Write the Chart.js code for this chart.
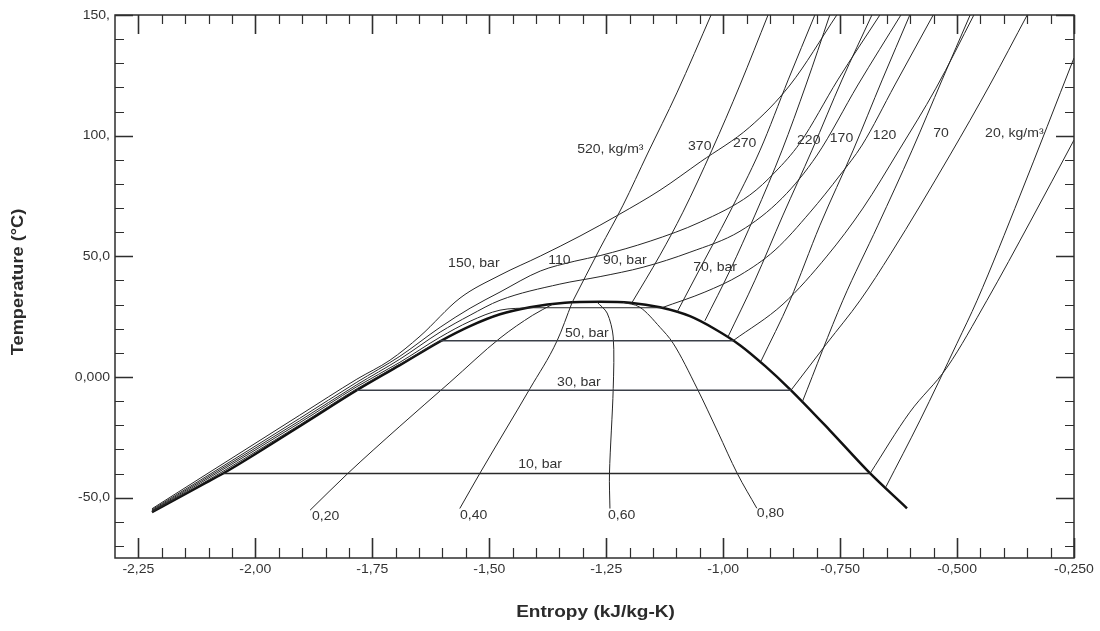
<!DOCTYPE html>
<html>
<head>
<meta charset="utf-8">
<script src="https://cdn.jsdelivr.net/npm/chart.js@4.4.1/dist/chart.umd.min.js"></script>
<style>
  html, body { margin: 0; padding: 0; background: #ffffff; }
  canvas { display: block; }
</style>
</head>
<body>
<canvas id="ts" width="1100" height="631" style="width:1100px;height:631px"></canvas>
<script>
// CO2 temperature–entropy diagram: s in kJ/kg-K, T in °C, each curve as [s, T] pairs.

// Saturation dome
const satLiquid = [[-2.221,-56.0],[-2.118,-45.1],[-2.069,-40.0],[-1.905,-20.4],[-1.783,-5.5],[-1.691,4.9],[-1.605,14.8],[-1.541,21.1],[-1.477,26.0],[-1.413,28.9],[-1.338,30.8],[-1.263,31.2]];
const satVapor = [[-1.263,31.2],[-1.199,30.8],[-1.135,28.9],[-1.071,25.2],[-1.017,19.8],[-0.964,13.2],[-0.910,4.5],[-0.857,-5.1],[-0.772,-22.1],[-0.690,-39.1],[-0.607,-54.4]];

// Isobars (bar)
const p10Dome = [[-2.069,-40.0],[-0.686,-40.0]];
const p10Vapor = [[-0.686,-40.0],[-0.601,-14.6],[-0.521,4.1],[-0.436,31.8],[-0.344,64.2],[-0.250,98.2],[-0.226,106.9]];
const p30Dome = [[-1.783,-5.5],[-0.855,-5.5]];
const p30Vapor = [[-0.855,-5.5],[-0.778,14.0],[-0.707,31.8],[-0.641,51.3],[-0.515,92.0],[-0.430,121.0],[-0.350,150.0]];
const p50Liquid = [[-2.221,-55.85],[-2.118,-44.65],[-1.905,-19.8],[-1.783,-4.85],[-1.691,5.3],[-1.605,15.0]];
const p50Dome = [[-1.605,15.0],[-0.979,15.0]];
const p50Vapor = [[-0.979,15.0],[-0.872,30.2],[-0.778,50.1],[-0.701,70.0],[-0.624,94.0],[-0.545,119.7],[-0.464,150.0]];
const p70Liquid = [[-2.221,-55.6],[-2.118,-44.0],[-1.905,-18.95],[-1.783,-4.0],[-1.691,6.1],[-1.605,16.5],[-1.541,23.1],[-1.477,27.7],[-1.409,28.7]];
const p70Dome = [[-1.409,28.7],[-1.131,28.7]];
const p70Vapor = [[-1.131,28.7],[-1.039,35.2],[-0.964,42.2],[-0.889,52.6],[-0.814,68.3],[-0.750,83.7],[-0.703,96.1],[-0.633,121.0],[-0.551,150.0]];
const p90 = [[-2.221,-55.35],[-2.118,-43.4],[-1.905,-18.1],[-1.783,-3.2],[-1.691,7.4],[-1.605,18.6],[-1.541,25.6],[-1.477,31.8],[-1.349,38.5],[-1.263,41.6],[-1.171,45.5],[-1.071,51.7],[-0.964,60.4],[-0.874,74.1],[-0.799,92.0],[-0.712,121.0],[-0.620,150.0]];
const p110 = [[-2.221,-55.0],[-2.118,-42.8],[-1.905,-17.1],[-1.783,-2.15],[-1.691,8.6],[-1.605,20.6],[-1.541,28.5],[-1.477,35.2],[-1.391,43.9],[-1.317,48.0],[-1.263,50.3],[-1.156,56.3],[-1.049,64.2],[-0.943,75.4],[-0.889,84.9],[-0.836,96.9],[-0.755,123.1],[-0.665,150.0]];
const p150 = [[-2.221,-54.6],[-2.118,-41.95],[-1.905,-15.8],[-1.783,-0.9],[-1.712,7.0],[-1.648,16.9],[-1.5625,32.7],[-1.477,42.2],[-1.391,50.1],[-1.306,58.4],[-1.221,67.5],[-1.135,77.4],[-1.049,89.1],[-0.943,103.6],[-0.857,121.0],[-0.757,150.0]];

// Vapor quality lines
const q20 = [[-1.883,-55.2],[-1.802,-39.9],[-1.691,-20.4],[-1.584,-2.2],[-1.477,16.1],[-1.407,25.6],[-1.364,30.2]];
const q40 = [[-1.563,-54.5],[-1.520,-39.9],[-1.413,-4.8],[-1.355,15.0],[-1.323,30.8]];
const q60 = [[-1.242,-54.5],[-1.243,-39.9],[-1.235,-4.8],[-1.235,16.6],[-1.248,26.5],[-1.270,31.1]];
const q80 = [[-1.214,30.9],[-1.178,28.9],[-1.135,20.6],[-1.107,14.0],[-1.056,-4.6],[-1.011,-22.9],[-0.970,-39.9],[-0.928,-54.4]];

// Isochores (kg/m³)
const rho520 = [[-1.323,30.8],[-1.263,53.4],[-1.214,71.2],[-1.161,92.8],[-1.099,117.7],[-1.024,150.8]];
const rho370 = [[-1.195,30.8],[-1.135,50.5],[-1.086,68.3],[-1.024,94.0],[-0.964,121.0],[-0.904,150.0]];
const rho270 = [[-1.099,26.7],[-1.049,45.1],[-0.989,67.1],[-0.921,94.0],[-0.861,123.1],[-0.804,150.0]];
const rho220 = [[-1.039,23.3],[-0.985,44.3],[-0.932,67.1],[-0.874,94.0],[-0.823,121.0],[-0.772,150.0]];
const rho170 = [[-0.990,16.5],[-0.932,40.1],[-0.872,67.1],[-0.810,94.0],[-0.746,123.1],[-0.682,150.0]];
const rho120 = [[-0.919,6.6],[-0.857,31.8],[-0.793,62.9],[-0.722,94.0],[-0.660,123.1],[-0.601,150.0]];
const rho70 = [[-0.831,-10.4],[-0.744,31.8],[-0.669,62.9],[-0.596,94.0],[-0.532,123.1],[-0.472,150.0]];
const rho20 = [[-0.652,-45.5],[-0.579,-17.9],[-0.500,14.0],[-0.457,31.8],[-0.365,75.4],[-0.250,132.2],[-0.233,140.5]];

// Axis ticks
const xTickValues = [-2.25,-2.00,-1.75,-1.50,-1.25,-1.00,-0.75,-0.50,-0.25];
const xTickLabels = ["-2,25","-2,00","-1,75","-1,50","-1,25","-1,00","-0,750","-0,500","-0,250"];
const yTickValues = [150,100,50,0,-50];
const yTickLabels = ["150,","100,","50,0","0,000","-50,0"];

// Curve labels: text and the (s, T) point where the text starts
const curveLabels = [
  ["150, bar",-1.588,47.2],["110",-1.374,48.4],["90, bar",-1.257,48.4],["70, bar",-1.064,45.5],
  ["50, bar",-1.338,18.2],["30, bar",-1.355,-2.2],["10, bar",-1.438,-36.2],
  ["0,20",-1.879,-57.7],["0,40",-1.5625,-57.3],["0,60",-1.246,-57.3],["0,80",-0.928,-56.5],
  ["520, kg/m³",-1.312,94.4],["370",-1.075,95.7],["270",-0.979,96.9],["220",-0.842,98.2],
  ["170",-0.772,99.0],["120",-0.680,100.2],["70",-0.551,101.1],["20, kg/m³",-0.440,101.1]
];

const toXY = arr => arr.map(([s, T]) => ({x: s, y: T}));
function curve(arr, width, color, smooth) {
  const ds = {
    data: toXY(arr), showLine: true, borderColor: color, borderWidth: width,
    pointRadius: 0, fill: false, tension: 0
  };
  if (smooth === 'monotone') ds.cubicInterpolationMode = 'monotone';
  else if (typeof smooth === 'number') ds.tension = smooth;
  return ds;
}

const thin = '#262626';
const M = 'monotone';
const datasets = [
  curve(p150, 1, thin, M), curve(p110, 1, thin, M), curve(p90, 1, thin, M),
  curve(p70Liquid, 1, thin, M), curve(p70Dome, 1, thin, 0), curve(p70Vapor, 1, thin, M),
  curve(p50Liquid, 1, thin, M), curve(p50Dome, 1.5, '#3a3f48', 0), curve(p50Vapor, 1, thin, M),
  curve(p30Dome, 1.5, '#3a3f48', 0), curve(p30Vapor, 1, thin, M),
  curve(p10Dome, 1.5, '#2a2a2a', 0), curve(p10Vapor, 1, thin, M),
  curve(q20, 1, thin, M), curve(q40, 1, thin, M), curve(q60, 1, thin, 0.3), curve(q80, 1, thin, M),
  curve(rho520, 1, thin, M), curve(rho370, 1, thin, M), curve(rho270, 1, thin, M),
  curve(rho220, 1, thin, M), curve(rho170, 1, thin, M), curve(rho120, 1, thin, M),
  curve(rho70, 1, thin, M), curve(rho20, 1, thin, M),
  curve(satLiquid.concat(satVapor.slice(1)), 2.5, '#111111', M)
];

function stretchedText(ctx, text, x, y, sx, align) {
  ctx.save();
  ctx.translate(x, y);
  ctx.scale(sx, 1);
  ctx.textAlign = align;
  ctx.fillText(text, 0, 0);
  ctx.restore();
}

// Frame, inward ticks, tick labels, axis titles and curve labels
const framePlugin = {
  id: 'frame',
  afterDatasetsDraw(chart) {
    const {ctx, chartArea: a, scales: {x, y}} = chart;
    ctx.save();
    ctx.strokeStyle = '#2e2e2e';
    ctx.lineWidth = 1.5;
    ctx.strokeRect(a.left, a.top, a.right - a.left, a.bottom - a.top);

    // x ticks every 0.05, major every 0.25
    for (let k = 0; k <= 40; k++) {
      const v = -2.25 + 0.05 * k;
      const px = Math.round(x.getPixelForValue(v)) + 0.5;
      const major = k % 5 === 0;
      ctx.lineWidth = major ? 1.6 : 1.2;
      ctx.beginPath();
      ctx.moveTo(px, a.bottom); ctx.lineTo(px, a.bottom - (major ? 20 : 10));
      ctx.moveTo(px, a.top); ctx.lineTo(px, a.top + (major ? 19 : 9));
      ctx.stroke();
    }
    // y ticks every 10, major every 50
    for (let v = -70; v <= 150; v += 10) {
      const py = Math.round(y.getPixelForValue(v)) + 0.5;
      const major = v % 50 === 0;
      ctx.lineWidth = major ? 1.6 : 1.2;
      ctx.beginPath();
      ctx.moveTo(a.left, py); ctx.lineTo(a.left + (major ? 18 : 9), py);
      ctx.moveTo(a.right, py); ctx.lineTo(a.right - (major ? 18 : 9), py);
      ctx.stroke();
    }

    ctx.fillStyle = '#333333';
    ctx.font = '13px "Liberation Sans", Arial, sans-serif';
    ctx.textBaseline = 'middle';
    xTickValues.forEach((v, i) => {
      stretchedText(ctx, xTickLabels[i], x.getPixelForValue(v), a.bottom + 11, 1.08, 'center');
    });
    yTickValues.forEach((v, i) => {
      stretchedText(ctx, yTickLabels[i], a.left - 5, y.getPixelForValue(v), 1.08, 'right');
    });

    // axis titles
    ctx.fillStyle = '#2b2b2b';
    ctx.font = 'bold 17px "Liberation Sans", Arial, sans-serif';
    stretchedText(ctx, 'Entropy (kJ/kg-K)', (a.left + a.right) / 2 + 1, 612, 1.12, 'center');
    ctx.save();
    ctx.translate(18, 282);
    ctx.rotate(-Math.PI / 2);
    stretchedText(ctx, 'Temperature (°C)', 0, 0, 1.07, 'center');
    ctx.restore();

    // curve labels
    ctx.fillStyle = '#333333';
    ctx.font = '13px "Liberation Sans", Arial, sans-serif';
    curveLabels.forEach(([t, s, T]) => {
      stretchedText(ctx, t, x.getPixelForValue(s), y.getPixelForValue(T), 1.08, 'left');
    });
    ctx.restore();
  }
};

new Chart(document.getElementById('ts'), {
  type: 'scatter',
  data: {datasets},
  options: {
    responsive: false,
    animation: false,
    devicePixelRatio: 1,
    layout: {padding: {left: 115, right: 26, top: 15, bottom: 73}},
    plugins: {legend: {display: false}, tooltip: {enabled: false}},
    scales: {
      x: {type: 'linear', min: -2.30, max: -0.25, display: false},
      y: {type: 'linear', min: -75, max: 150, display: false}
    }
  },
  plugins: [framePlugin]
});
</script>
</body>
</html>
